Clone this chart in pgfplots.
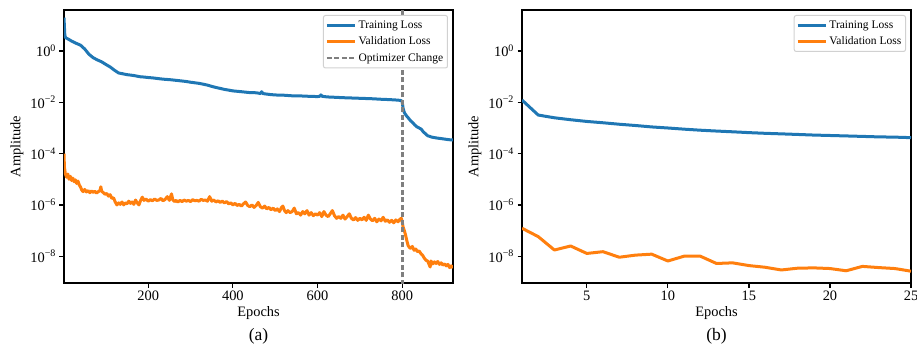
\documentclass[border=0pt]{standalone}
\usepackage{pgfplots}
\pgfplotsset{compat=1.18}
\usepackage{fontspec}
\setmainfont{Liberation Serif}
\definecolor{tabblue}{HTML}{1F77B4}
\definecolor{taborange}{HTML}{FF7F0E}
\definecolor{tabgray}{HTML}{7F7F7F}
\tikzset{
  trainst/.style={tabblue, line width=3pt, line join=round},
  valst/.style={taborange, line width=3pt, line join=round},
}
\pgfplotsset{
  every axis/.append style={
    scale only axis, width=389pt, height=273pt,
    ymin=9e-10, ymax=40,
    ytick={1e0,1e-2,1e-4,1e-6,1e-8},
    yticklabels={10\textsuperscript{0},10\textsuperscript{−2},10\textsuperscript{−4},10\textsuperscript{−6},10\textsuperscript{−8}},
    yminorticks=false, xminorticks=false,
    tick pos=left, tick align=outside,
    major tick length=4.5pt,
    axis line style={line width=1.6pt},
    /pgf/number format/assume math mode=true,
    tick label style={font=\fontsize{14.4}{16}\selectfont},
    label style={font=\fontsize{14.4}{16}\selectfont},
    xlabel={Epochs}, ylabel={Amplitude},
    xlabel style={at={(axis description cs:0.5,-0.11)}, anchor=center},
    ylabel style={at={(axis description cs:-0.121,0.5)}, anchor=center},
    legend cell align=left,
    legend style={at={(axis description cs:1,1)}, anchor=north east,
      xshift=-5pt, yshift=-5pt, draw=black!18, line width=1pt,
      rounded corners=2pt, fill=white,
      font=\fontsize{11.5}{13}\selectfont,
      inner xsep=2pt, inner ysep=3pt, row sep=2.6pt,
      nodes={inner sep=2.2pt}},
  },
  every tick/.style={black, line width=1.2pt},
  legend image code/.code={\draw[#1] (0pt,0pt) -- (28pt,0pt);},
}
\begin{document}
\begin{tikzpicture}
\useasboundingbox (-64pt,-70pt) rectangle (853pt,283pt);
\begin{semilogyaxis}[name=A, at={(0pt,0pt)}, anchor=south west,
  xmin=1, xmax=920, xtick={200,400,600,800}]
\addplot[trainst] coordinates {
(1,20) (3,4) (5,3.3) (10,3.0) (20,2.4) (30,2.0) (40,1.7) (50,1.2) (60,0.75) (70,0.55)
(80,0.45) (90,0.38) (100,0.30) (110,0.24) (120,0.18) (130,0.14) (140,0.13) (150,0.12)
(160,0.115) (170,0.108) (180,0.10) (190,0.097) (200,0.093) (210,0.09) (220,0.086)
(230,0.082) (240,0.079) (250,0.077) (260,0.074) (270,0.071) (280,0.068) (290,0.065)
(300,0.061) (310,0.058) (320,0.055) (330,0.051) (340,0.047) (350,0.042) (360,0.038)
(370,0.035) (380,0.032) (390,0.030) (400,0.028) (410,0.027) (420,0.026) (430,0.025)
(440,0.024) (450,0.024) (460,0.023) (465,0.022) (468,0.026) (471,0.022) (480,0.021)
(490,0.020) (500,0.0195) (510,0.019) (520,0.019) (530,0.0185) (540,0.018) (550,0.018)
(560,0.0178) (570,0.0175) (580,0.0172) (590,0.017) (600,0.0168) (605,0.0172) (608,0.0195)
(611,0.0172) (620,0.0165) (630,0.016) (640,0.0158) (650,0.0155) (660,0.0152) (670,0.015)
(680,0.0148) (690,0.0146) (700,0.0144) (710,0.0142) (720,0.014) (730,0.0138) (740,0.0135)
(750,0.0132) (760,0.013) (770,0.0128) (780,0.0125) (790,0.0122) (797,0.0118) (800,0.0105)
(802,0.0060) (805,0.0040) (810,0.0030) (815,0.0024) (820,0.0019) (825,0.0016) (830,0.0013)
(835,0.0011) (840,0.0010) (845,0.0009) (850,0.0007) (855,0.0006) (860,0.0005) (865,0.00047)
(870,0.00044) (880,0.00041) (890,0.00039) (900,0.00037) (910,0.00035) (920,0.00034)
};
\addlegendentry{Training Loss}
\addplot[valst] coordinates {
(1,1e-4) (2,3e-5) (4,1.7e-5) (7,1.2e-5) (10,1.6e-5) (13,1.0e-5) (16,1.3e-5) (19,9e-6)
(22,1.1e-5) (25,8e-6) (28,9.5e-6) (31,6.9e-6) (34,8.5e-6) (37,6e-6) (40,5e-6) (43,3.8e-6)
(46,3.3e-6) (50,4e-6) (54,3.2e-6) (58,3.6e-6) (62,3.0e-6) (66,3.5e-6) (70,3.1e-6)
(74,3.4e-6) (78,2.9e-6) (82,3.3e-6) (86,3.6e-6) (88,5.1e-6) (90,3.4e-6) (94,3.0e-6)
(98,2.6e-6) (102,2.8e-6) (106,2.2e-6) (110,2.5e-6) (114,1.8e-6) (118,1.9e-6) (122,1.3e-6)
(126,1.0e-6) (130,1.2e-6) (134,1.05e-6) (138,1.3e-6) (142,1.0e-6) (146,1.2e-6) (150,1.1e-6)
(154,1.4e-6) (158,1.15e-6) (162,1.3e-6) (166,1.05e-6) (170,1.55e-6) (174,1.2e-6)
(178,1.0e-6) (182,1.5e-6) (186,2.0e-6) (190,1.5e-6) (195,1.7e-6) (200,1.4e-6) (205,1.6e-6)
(210,1.45e-6) (215,1.7e-6) (220,1.5e-6) (225,1.55e-6) (230,1.8e-6) (235,1.45e-6)
(240,1.65e-6) (245,2.1e-6) (250,1.5e-6) (255,2.7e-6) (258,1.6e-6) (262,1.35e-6)
(266,1.5e-6) (270,1.3e-6) (275,1.5e-6) (280,1.35e-6) (285,1.55e-6) (290,1.4e-6)
(295,1.5e-6) (300,1.35e-6) (305,1.6e-6) (310,1.45e-6) (315,1.5e-6) (320,1.4e-6)
(325,1.65e-6) (330,1.5e-6) (335,1.55e-6) (340,1.4e-6) (345,2.1e-6) (350,1.4e-6)
(355,1.55e-6) (360,1.3e-6) (365,1.45e-6) (370,1.25e-6) (375,1.4e-6) (380,1.2e-6)
(385,1.35e-6) (390,1.1e-6) (395,1.2e-6) (400,1.0e-6) (405,1.15e-6) (410,0.95e-6)
(415,1.05e-6) (420,0.9e-6) (425,1.1e-6) (430,1.3e-6) (435,0.95e-6) (440,0.85e-6)
(445,1.0e-6) (450,0.8e-6) (455,0.95e-6) (460,1.25e-6) (465,0.85e-6) (470,0.75e-6)
(475,0.9e-6) (480,0.7e-6) (485,0.8e-6) (490,0.65e-6) (495,0.75e-6) (500,0.6e-6)
(505,0.7e-6) (510,0.55e-6) (515,0.8e-6) (518,0.9e-6) (522,0.6e-6) (526,0.5e-6)
(530,0.6e-6) (535,0.5e-6) (540,0.55e-6) (545,0.75e-6) (550,0.45e-6) (555,0.5e-6)
(560,0.4e-6) (565,0.55e-6) (570,0.45e-6) (575,0.6e-6) (580,0.4e-6) (585,0.5e-6)
(590,0.38e-6) (595,0.45e-6) (600,0.4e-6) (605,0.5e-6) (610,0.35e-6) (615,0.55e-6)
(620,0.4e-6) (625,0.35e-6) (630,0.45e-6) (635,0.6e-6) (640,0.38e-6) (645,0.3e-6)
(650,0.35e-6) (655,0.3e-6) (660,0.4e-6) (665,0.28e-6) (670,0.35e-6) (675,0.45e-6)
(680,0.3e-6) (685,0.26e-6) (690,0.32e-6) (695,0.25e-6) (700,0.3e-6) (705,0.26e-6)
(710,0.33e-6) (715,0.25e-6) (720,0.4e-6) (725,0.28e-6) (730,0.24e-6) (735,0.3e-6)
(740,0.22e-6) (745,0.28e-6) (750,0.24e-6) (755,0.33e-6) (760,0.23e-6) (765,0.26e-6)
(770,0.21e-6) (775,0.25e-6) (780,0.2e-6) (785,0.26e-6) (790,0.22e-6) (795,0.28e-6)
(798,0.3e-6) (800,0.22e-6) (802,0.14e-6) (805,0.1e-6) (808,6.6e-8) (811,4e-8) (814,2.6e-8)
(817,2.2e-8) (820,2.0e-8) (824,2.4e-8) (828,1.7e-8) (832,1.9e-8) (836,1.5e-8) (840,1.6e-8)
(844,1.27e-8) (848,1.1e-8) (852,8.5e-9) (856,7e-9) (860,6.5e-9) (863,5e-9) (866,3.8e-9)
(868,6.5e-9) (872,5e-9) (876,6e-9) (880,5.2e-9) (884,6.2e-9) (888,4.8e-9) (892,5.5e-9)
(896,4.5e-9) (900,5.0e-9) (904,4.2e-9) (908,4.8e-9) (912,3.6e-9) (916,4.2e-9) (920,3.5e-9)
};
\addlegendentry{Validation Loss}
\addplot[tabgray, line width=2.7pt, dash pattern=on 5pt off 2.5pt] coordinates {(800,1e-10) (800,100)};
\addlegendentry{Optimizer Change}
\end{semilogyaxis}
\begin{semilogyaxis}[name=B, at={(458pt,0pt)}, anchor=south west,
  xmin=1, xmax=25, xtick={5,10,15,20,25}]
\addplot[trainst] coordinates {
(1,0.0123) (2,0.0032) (3,0.0025) (4,0.0021) (5,0.0018) (6,0.0016) (7,0.0014) (8,0.00125)
(9,0.00110) (10,0.00100) (11,0.00090) (12,0.00082) (13,0.00076) (14,0.00071) (15,0.00066)
(16,0.00062) (17,0.00059) (18,0.00056) (19,0.00053) (20,0.00051) (21,0.00049) (22,0.00047)
(23,0.00045) (24,0.00044) (25,0.00042)
};
\addlegendentry{Training Loss}
\addplot[valst] coordinates {
(1,1.23e-7) (2,5.8e-8) (3,1.74e-8) (4,2.5e-8) (5,1.28e-8) (6,1.5e-8) (7,9.1e-9) (8,1.1e-8)
(9,1.2e-8) (10,6.5e-9) (11,1e-8) (12,1e-8) (13,5.2e-9) (14,5.5e-9) (15,4.3e-9) (16,3.7e-9)
(17,2.9e-9) (18,3.4e-9) (19,3.5e-9) (20,3.3e-9) (21,2.7e-9) (22,4e-9) (23,3.6e-9)
(24,3.3e-9) (25,2.6e-9)
};
\addlegendentry{Validation Loss}
\end{semilogyaxis}
\node[font=\fontsize{17.5}{20}\selectfont, anchor=center] at ([yshift=-53pt]A.south) {(a)};
\node[font=\fontsize{17.5}{20}\selectfont, anchor=center] at ([yshift=-53pt]B.south) {(b)};
\end{tikzpicture}
\end{document}
